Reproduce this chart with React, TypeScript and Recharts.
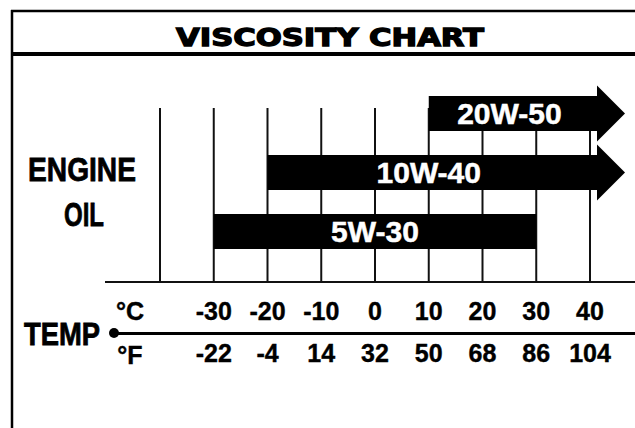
import { BarChart, Bar, XAxis, YAxis, CartesianGrid, LabelList } from "recharts";

const temps = [-40, -30, -20, -10, 0, 10, 20, 30, 40];
const celsiusLabels = ["", "-30", "-20", "-10", "0", "10", "20", "30", "40"];
const fahrenheitLabels = ["", "-22", "-4", "14", "32", "50", "68", "86", "104"];

const grades = ["20W-50", "10W-40", "5W-30"];
const lowTemps = [10, -20, -30];
const highTemps = [40, 40, 30];
const openEnded = [true, true, false];

const data = grades.map((g, i) => ({
  grade: g,
  range: [lowTemps[i], highTemps[i]],
  open: openEnded[i],
}));

const numFont = "'Liberation Sans', Arial, Helvetica, sans-serif";
const narrowFont = "'Liberation Sans Narrow', 'Arial Narrow', 'Liberation Sans', sans-serif";

function OilBar(props: any) {
  const { x, y, width, height, payload } = props;
  if (!payload.open) {
    return <rect x={x} y={y} width={width} height={height} fill="#000" />;
  }
  const end = x + width + 7;
  const cy = y + height / 2;
  return (
    <g>
      <rect x={x} y={y} width={end - x} height={height} fill="#000" />
      <polygon points={`${end},${cy - 28} ${end + 28},${cy} ${end},${cy + 28}`} fill="#000" />
    </g>
  );
}

function TempTick(props: any) {
  const { x, y, payload } = props;
  const i = temps.indexOf(payload.value);
  return (
    <g fontFamily={numFont} fontWeight="bold" fontSize={25} fill="#000" stroke="#000" strokeWidth={0.4}>
      <text x={x} y={y + 57} textAnchor="middle">{celsiusLabels[i]}</text>
      <text x={x} y={y + 99} textAnchor="middle">{fahrenheitLabels[i]}</text>
    </g>
  );
}

export default function App() {
  return (
    <div style={{ position: "absolute", left: 0, top: 0, width: 635, height: 428, background: "#fff" }}>
      <BarChart
        width={635}
        height={428}
        layout="vertical"
        data={data}
        margin={{ top: 84, right: 45, bottom: 137, left: 160 }}
        barCategoryGap={0}
      >
        <CartesianGrid vertical horizontal={false} y={108} height={174} stroke="#111" strokeWidth={2} />
        <XAxis
          type="number"
          domain={[-40, 40]}
          ticks={temps}
          axisLine={false}
          tickLine={false}
          tickSize={0}
          height={30}
          tick={<TempTick />}
          interval={0}
        />
        <YAxis type="category" dataKey="grade" hide />
        <Bar dataKey="range" barSize={35} shape={<OilBar />} isAnimationActive={false}>
          <LabelList
            dataKey="grade"
            position="center"
            fill="#fff"
            stroke="#fff"
            strokeWidth={0.5}
            fontSize={30}
            fontWeight="bold"
            fontFamily={numFont}
          />
        </Bar>
      </BarChart>
      <svg width={635} height={428} style={{ position: "absolute", left: 0, top: 0, pointerEvents: "none" }}>
        <line x1={12} y1={10} x2={12} y2={428} stroke="#000" strokeWidth={2.5} />
        <line x1={11} y1={11} x2={635} y2={11} stroke="#000" strokeWidth={2.5} />
        <line x1={11} y1={54} x2={635} y2={54} stroke="#000" strokeWidth={4} />
        <text x={330} y={46} textAnchor="middle" fontFamily="'DejaVu Sans', sans-serif" fontWeight={900} fontSize={24} stroke="#000" strokeWidth={1.3} textLength={308} lengthAdjust="spacingAndGlyphs">VISCOSITY CHART</text>
        <g fontFamily={narrowFont} fontWeight="bold" stroke="#000" strokeWidth={0.8} textAnchor="middle">
          <text x={82} y={181} fontSize={34} textLength={108} lengthAdjust="spacingAndGlyphs">ENGINE</text>
          <text x={84} y={226} fontSize={34} textLength={40} lengthAdjust="spacingAndGlyphs">OIL</text>
          <text x={62} y={345} fontSize={32} textLength={76} lengthAdjust="spacingAndGlyphs">TEMP</text>
        </g>
        <line x1={105} y1={282} x2={635} y2={282} stroke="#111" strokeWidth={2} />
        <circle cx={114} cy={333} r={5} fill="#000" />
        <line x1={114} y1={333.5} x2={635} y2={333.5} stroke="#000" strokeWidth={3} />
        <g fontFamily={numFont} fontWeight="bold" fontSize={25} stroke="#000" strokeWidth={0.4} textAnchor="middle">
          <text x={130} y={320}>°C</text>
          <text x={130} y={364}>°F</text>
        </g>
      </svg>
    </div>
  );
}
